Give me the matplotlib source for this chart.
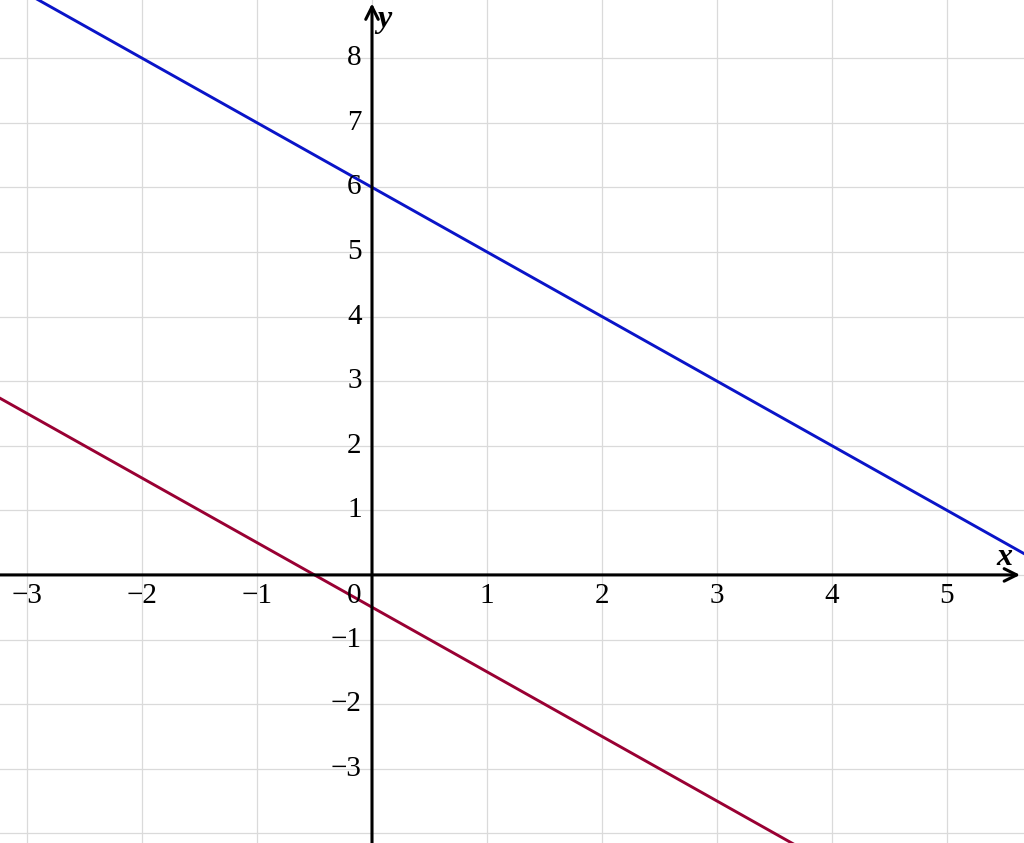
import numpy as np
import matplotlib
matplotlib.use('Agg')
import matplotlib.pyplot as plt
from matplotlib import font_manager

# lines y = m*x + b
slopes = [-1.0, -1.0]
intercepts = [6.0, -0.5]
colors = ['#0a14c8', '#990033']

x_ticks = [-3, -2, -1, 1, 2, 3, 4, 5]
y_ticks = [-3, -2, -1, 1, 2, 3, 4, 5, 6, 7, 8]

xmin, xmax = -3.235, 5.67
ymin, ymax = -4.15, 8.9

names = {f.name for f in font_manager.fontManager.ttflist}
serif = 'Liberation Serif' if 'Liberation Serif' in names else 'DejaVu Serif'
plt.rcParams['font.family'] = [serif, 'DejaVu Serif']


def main():
    fig = plt.figure(figsize=(10.24, 8.43), dpi=100)
    ax = fig.add_axes([0, 0, 1, 1])
    ax.set_xlim(xmin, xmax)
    ax.set_ylim(ymin, ymax)
    for s in ax.spines.values():
        s.set_visible(False)
    ax.set_xticks([])
    ax.set_yticks([])

    # grid
    for gx in range(-3, 6):
        ax.axvline(gx, color='#dadada', lw=0.9, zorder=0)
    for gy in range(-4, 9):
        ax.axhline(gy, color='#dadada', lw=0.9, zorder=0)

    xs = np.array([xmin, xmax])
    for m, b, c in zip(slopes, intercepts, colors):
        ax.plot(xs, m * xs + b, color=c, lw=2.1, zorder=3)

    # axes with arrows
    arrow = dict(arrowstyle='->,head_length=0.9,head_width=0.45', lw=2.2, color='black')
    ax.annotate('', xy=(xmax - 0.01, 0), xytext=(xmin - 0.1, 0), arrowprops=arrow, zorder=4)
    ax.annotate('', xy=(0, ymax - 0.01), xytext=(0, ymin - 0.1), arrowprops=arrow, zorder=4)

    ax.text(5.5, 0.05, 'x', fontsize=23, style='italic', weight='bold', ha='center', va='bottom')
    ax.text(0.11, 8.6, 'y', fontsize=23, style='italic', weight='bold', ha='center', va='center')

    for t in x_ticks:
        ax.text(t, -0.12, str(t).replace('-', '\u2212'), fontsize=21, ha='center', va='top')
    for t in y_ticks:
        ax.text(-0.09, t, str(t).replace('-', '\u2212'), fontsize=21, ha='right', va='center')
    ax.text(-0.09, -0.12, '0', fontsize=21, ha='right', va='top')

    fig.savefig('out.png', dpi=100)


if __name__ == '__main__':
    main()
